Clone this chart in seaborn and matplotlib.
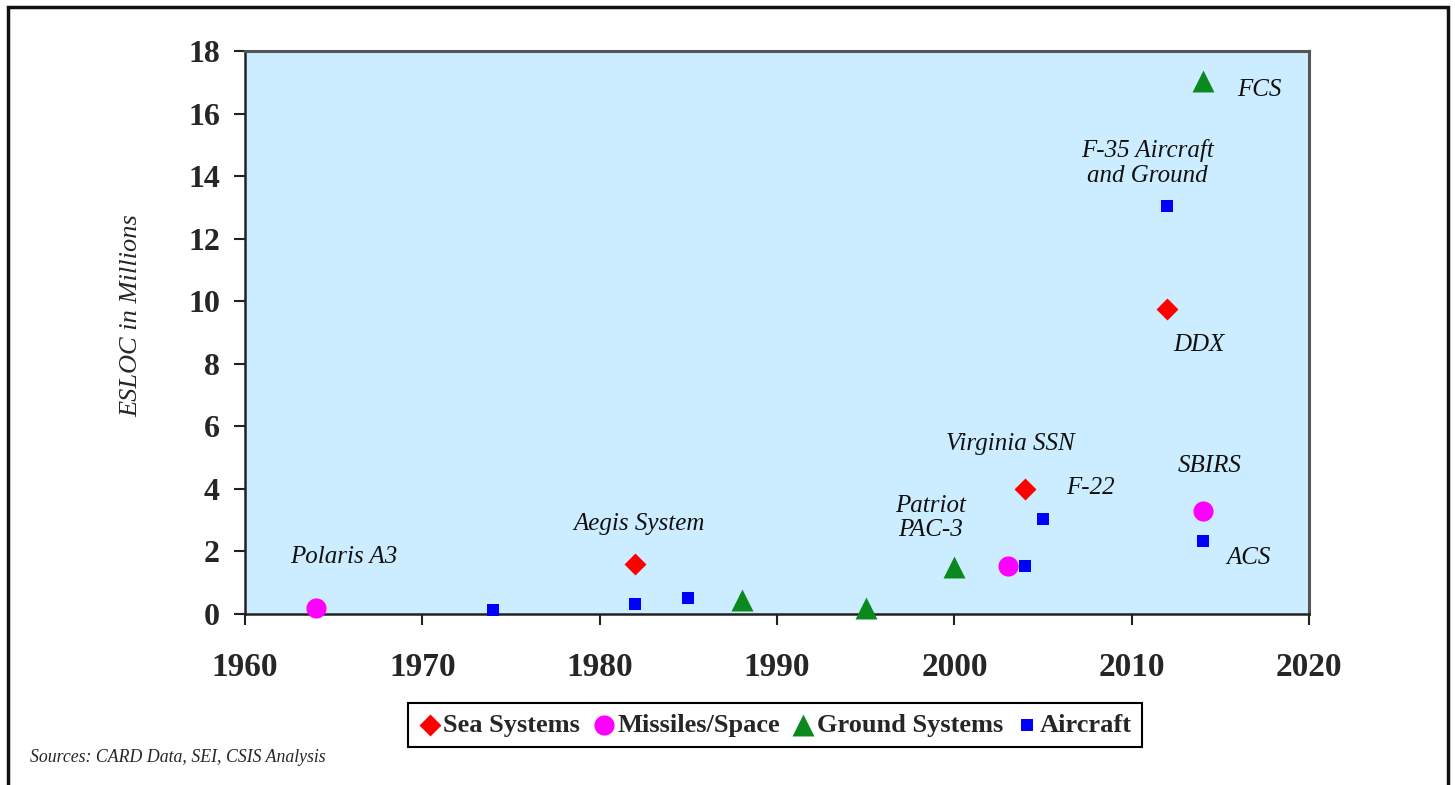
import numpy as np
import pandas as pd
import matplotlib
matplotlib.use("Agg")
import matplotlib.pyplot as plt
import matplotlib.patches as mpatches
import seaborn as sns

# -------------------------------
# Data
# -------------------------------
SEA_YEARS = [1982, 2004, 2012]
SEA_ESLOC = [1.6, 4.0, 9.75]
SEA_NAMES = ["Aegis System", "Virginia SSN", "DDX"]

MISSILE_YEARS = [1964, 2003, 2014]
MISSILE_ESLOC = [0.2, 1.55, 3.3]
MISSILE_NAMES = ["Polaris A3", "", "SBIRS"]

GROUND_YEARS = [1988, 1995, 2000, 2014]
GROUND_ESLOC = [0.45, 0.2, 1.5, 17.05]
GROUND_NAMES = ["", "", "Patriot\nPAC-3", "FCS"]

AIR_YEARS = [1974, 1982, 1985, 2004, 2005, 2012, 2014]
AIR_ESLOC = [0.13, 0.32, 0.52, 1.55, 3.05, 13.05, 2.35]
AIR_NAMES = ["", "", "", "", "F-22", "F-35 Aircraft\nand Ground", "ACS"]

CATEGORIES = ["Sea Systems", "Missiles/Space", "Ground Systems", "Aircraft"]

X_TICKS = [1960, 1970, 1980, 1990, 2000, 2010, 2020]
Y_TICKS = [0, 2, 4, 6, 8, 10, 12, 14, 16, 18]

df = pd.concat([
    pd.DataFrame({"Year": SEA_YEARS, "ESLOC": SEA_ESLOC, "Name": SEA_NAMES, "System": "Sea Systems"}),
    pd.DataFrame({"Year": MISSILE_YEARS, "ESLOC": MISSILE_ESLOC, "Name": MISSILE_NAMES, "System": "Missiles/Space"}),
    pd.DataFrame({"Year": GROUND_YEARS, "ESLOC": GROUND_ESLOC, "Name": GROUND_NAMES, "System": "Ground Systems"}),
    pd.DataFrame({"Year": AIR_YEARS, "ESLOC": AIR_ESLOC, "Name": AIR_NAMES, "System": "Aircraft"}),
], ignore_index=True)

# -------------------------------
# Styling
# -------------------------------
sns.set_theme(style="white")
plt.rcParams["font.family"] = ["Liberation Serif", "DejaVu Serif"]

STYLE = {
    "Sea Systems":    dict(color="#FF0000", marker="D", s=125),
    "Missiles/Space": dict(color="#FF00FF", marker="o", s=210),
    "Ground Systems": dict(color="#0A8A1E", marker="^", s=250),
    "Aircraft":       dict(color="#0000FF", marker="s", s=75),
}

# label offsets from the point, in pixels
LABEL_OFFSETS = {
    "Polaris A3": (28, 51),
    "Aegis System": (4, 40),
    "Patriot\nPAC-3": (-24, 49),
    "Virginia SSN": (-15, 45),
    "F-22": (47, 31),
    "F-35 Aircraft\nand Ground": (-20, 43),
    "FCS": (57, -9),
    "DDX": (32, -36),
    "SBIRS": (7, 45),
    "ACS": (46, -17),
}

fig = plt.figure(figsize=(14.55, 7.85), dpi=100)
ax = fig.add_axes([0.1684, 0.2178, 0.7313, 0.7172])
ax.set_facecolor("#CCECFF")

for cat in CATEGORIES:
    sub = df[df["System"] == cat]
    st = STYLE[cat]
    sns.scatterplot(
        data=sub, x="Year", y="ESLOC",
        color=st["color"], marker=st["marker"], s=st["s"],
        linewidth=0, label=cat, ax=ax, zorder=3, clip_on=False
    )

for _, row in df[df["Name"] != ""].iterrows():
    ax.annotate(
        row["Name"], xy=(row["Year"], row["ESLOC"]),
        xytext=LABEL_OFFSETS[row["Name"]], textcoords="offset pixels",
        ha="center", va="center", fontsize=18, style="italic",
        linespacing=1.15, color="#111111"
    )

ax.set_xlim(1960, 2020)
ax.set_ylim(0, 18)
ax.set_xticks(X_TICKS)
ax.set_yticks(Y_TICKS)
ax.set_xlabel("")
ax.set_ylabel("")
ax.tick_params(axis="both", direction="out", length=8, width=1.5, color="#222222")
ax.tick_params(axis="x", pad=19, labelsize=24, bottom=True)
ax.tick_params(axis="y", pad=10, labelsize=23, left=True)
for lab in ax.get_xticklabels() + ax.get_yticklabels():
    lab.set_fontweight("bold")

for side in ["left", "bottom"]:
    ax.spines[side].set_color("#222222")
    ax.spines[side].set_linewidth(1.8)
for side in ["top", "right"]:
    ax.spines[side].set_color("#555555")
    ax.spines[side].set_linewidth(2.2)

fig.text(131 / 1455, 1 - 316 / 785, "ESLOC in Millions", rotation=90,
         ha="center", va="center", fontsize=19, style="italic")

ax.get_legend().remove()
handles, labels = ax.get_legend_handles_labels()
leg = fig.legend(
    handles, labels, loc="center", bbox_to_anchor=(775 / 1455, 1 - 725 / 785),
    ncol=4, frameon=True, fancybox=False, edgecolor="black", framealpha=1,
    prop={"family": "Liberation Serif", "weight": "bold", "size": 19},
    handletextpad=0.05, columnspacing=0.45, handlelength=0.9, borderpad=0.4,
    borderaxespad=0
)
leg.get_frame().set_linewidth(1.5)

fig.text(30 / 1455, 1 - 758 / 785, "Sources: CARD Data, SEI, CSIS Analysis",
         ha="left", va="center", fontsize=12.8, style="italic")

# outer frame around the whole figure
fig.patches.append(mpatches.Rectangle(
    (8 / 1455, -0.05), (1448 - 8) / 1455, 1 - 7 / 785 + 0.05,
    transform=fig.transFigure, fill=False, edgecolor="#111111", linewidth=2.5
))

fig.savefig("out.png", dpi=100)
